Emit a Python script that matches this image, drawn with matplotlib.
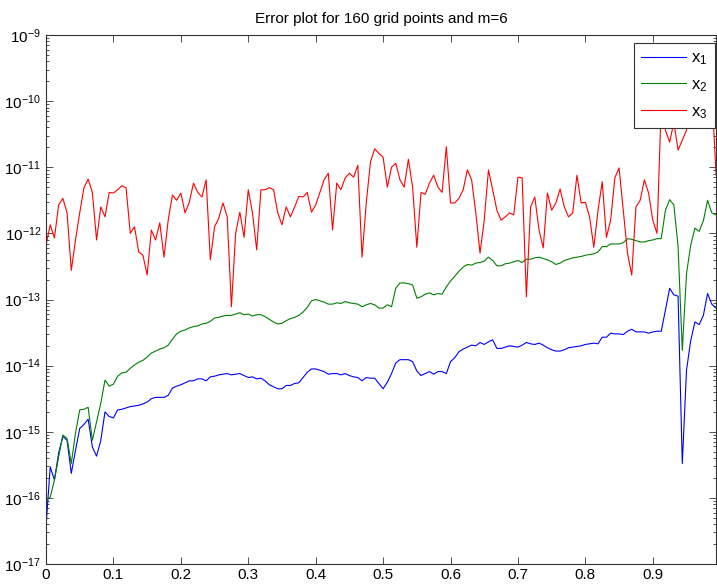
import matplotlib
matplotlib.use("Agg")
import matplotlib.pyplot as plt
import numpy as np
from matplotlib.ticker import LogLocator, NullFormatter

# Fonts: MATLAB-like (Arial -> Liberation Sans)
plt.rcParams['font.family'] = ['Liberation Sans', 'DejaVu Sans']
plt.rcParams['axes.unicode_minus'] = False
plt.rcParams['mathtext.fontset'] = 'custom'
plt.rcParams['mathtext.rm'] = 'Liberation Sans'
plt.rcParams['mathtext.it'] = 'Liberation Sans:italic'

# Grid: 160 points on [0, 1)
n_points = 160
x = np.arange(n_points) / n_points

# log10 of the error
log_x1 = [
    -16.44, -15.53, -15.73, -15.32, -15.07, -15.13, -15.63, -15.28, -14.95, -14.89,
    -14.81, -15.23, -15.37, -15.13, -14.70, -14.77, -14.79, -14.67, -14.66, -14.64,
    -14.62, -14.61, -14.60, -14.58, -14.55, -14.50, -14.48, -14.48, -14.48, -14.45,
    -14.34, -14.31, -14.29, -14.26, -14.23, -14.23, -14.20, -14.20, -14.23, -14.17,
    -14.16, -14.14, -14.13, -14.12, -14.14, -14.13, -14.12, -14.15, -14.18, -14.17,
    -14.20, -14.19, -14.23, -14.29, -14.32, -14.35, -14.35, -14.30, -14.30, -14.27,
    -14.26, -14.18, -14.10, -14.05, -14.05, -14.07, -14.09, -14.13, -14.12, -14.12,
    -14.14, -14.12, -14.15, -14.17, -14.18, -14.23, -14.18, -14.19, -14.19, -14.27,
    -14.35, -14.25, -14.12, -13.96, -13.91, -13.91, -13.91, -13.94, -14.08, -14.15,
    -14.12, -14.09, -14.13, -14.09, -14.09, -14.12, -13.94, -13.88, -13.79, -13.75,
    -13.72, -13.69, -13.70, -13.65, -13.68, -13.64, -13.61, -13.74, -13.74, -13.72,
    -13.70, -13.71, -13.72, -13.69, -13.65, -13.67, -13.68, -13.66, -13.69, -13.73,
    -13.76, -13.78, -13.78, -13.76, -13.73, -13.72, -13.71, -13.70, -13.68, -13.67,
    -13.66, -13.67, -13.57, -13.57, -13.51, -13.52, -13.52, -13.53, -13.48, -13.45,
    -13.49, -13.49, -13.49, -13.51, -13.49, -13.48, -13.48, -13.16, -12.83, -12.93,
    -12.95, -15.48, -14.07, -13.62, -13.34, -13.38, -13.24, -12.91, -13.07, -13.13,
]

log_x2 = [
    -16.03, -15.99, -15.73, -15.38, -15.05, -15.10, -15.48, -15.02, -14.67, -14.66,
    -14.63, -15.13, -14.85, -14.57, -14.22, -14.31, -14.28, -14.16, -14.11, -14.10,
    -14.04, -13.99, -13.95, -13.92, -13.87, -13.81, -13.78, -13.75, -13.73, -13.69,
    -13.60, -13.52, -13.48, -13.46, -13.43, -13.41, -13.40, -13.37, -13.36, -13.33,
    -13.28, -13.27, -13.25, -13.24, -13.24, -13.22, -13.20, -13.23, -13.22, -13.25,
    -13.23, -13.23, -13.26, -13.30, -13.34, -13.37, -13.36, -13.32, -13.29, -13.27,
    -13.24, -13.19, -13.12, -13.02, -13.00, -13.02, -13.04, -13.07, -13.07, -13.05,
    -13.06, -13.03, -13.05, -13.06, -13.07, -13.11, -13.08, -13.06, -13.08, -13.13,
    -13.13, -13.08, -13.11, -12.83, -12.75, -12.75, -12.76, -12.78, -12.98, -12.96,
    -12.92, -12.90, -12.93, -12.91, -12.92, -12.81, -12.72, -12.65, -12.57, -12.51,
    -12.47, -12.48, -12.45, -12.44, -12.42, -12.36, -12.41, -12.49, -12.49, -12.46,
    -12.45, -12.43, -12.41, -12.44, -12.39, -12.39, -12.37, -12.36, -12.38, -12.40,
    -12.43, -12.47, -12.45, -12.41, -12.39, -12.37, -12.36, -12.35, -12.33, -12.32,
    -12.31, -12.28, -12.20, -12.20, -12.16, -12.16, -12.16, -12.14, -12.08, -12.09,
    -12.11, -12.13, -12.13, -12.11, -12.10, -12.08, -12.08, -11.65, -11.49, -11.57,
    -12.20, -13.77, -12.61, -12.18, -11.92, -11.97, -11.81, -11.50, -11.69, -11.72,
]

log_x3 = [
    -12.18, -11.87, -12.07, -11.57, -11.47, -11.69, -12.56, -12.10, -11.69, -11.31,
    -11.18, -11.38, -12.10, -11.60, -11.75, -11.38, -11.39, -11.34, -11.28, -11.31,
    -12.00, -11.90, -12.28, -12.33, -12.63, -11.95, -12.10, -11.84, -12.36, -11.80,
    -11.42, -11.50, -11.39, -11.69, -11.53, -11.24, -11.38, -11.45, -11.19, -12.40,
    -11.90, -11.77, -11.54, -11.75, -13.11, -12.00, -11.68, -12.06, -11.34, -11.69,
    -12.25, -11.34, -11.34, -11.31, -11.34, -11.69, -11.87, -11.60, -11.75, -11.60,
    -11.44, -11.45, -11.38, -11.68, -11.57, -11.38, -11.19, -11.09, -11.95, -11.24,
    -11.34, -11.16, -11.09, -11.15, -10.97, -12.36, -11.54, -10.92, -10.72, -10.79,
    -10.85, -11.30, -11.00, -10.94, -11.19, -11.30, -10.88, -11.30, -12.21, -11.38,
    -11.41, -11.24, -11.12, -11.30, -11.38, -10.69, -11.54, -11.54, -11.47, -11.34,
    -11.04, -11.19, -11.69, -12.30, -11.80, -11.04, -11.34, -11.65, -11.80, -11.75,
    -11.69, -11.72, -11.15, -11.16, -12.96, -11.60, -11.45, -11.95, -12.22, -11.39,
    -11.65, -11.54, -11.33, -11.60, -11.75, -11.69, -11.12, -11.54, -11.53, -11.75,
    -12.21, -11.65, -11.22, -12.06, -11.80, -11.16, -11.01, -11.65, -12.30, -12.63,
    -11.60, -11.50, -11.19, -11.39, -11.80, -12.00, -10.06, -10.44, -10.62, -10.32,
    -10.74, -10.59, -10.44, -10.13, -9.98, -10.06, -10.13, -9.98, -9.83, -11.10,
]

labels = [r'$\mathregular{x_1}$', r'$\mathregular{x_2}$', r'$\mathregular{x_3}$']
colors = [(0, 0, 1), (0, 0.5, 0), (1, 0, 0)]
x_ticks = [0, 0.1, 0.2, 0.3, 0.4, 0.5, 0.6, 0.7, 0.8, 0.9]
x_ticklabels = ['0', '0.1', '0.2', '0.3', '0.4', '0.5', '0.6', '0.7', '0.8', '0.9']

fig = plt.figure(figsize=(7.17, 5.87), dpi=100)
ax = fig.add_axes([46 / 717, 23 / 587, 670 / 717, 529 / 587])

for vals, col, lab in zip([log_x1, log_x2, log_x3], colors, labels):
    ax.semilogy(x, 10.0 ** np.array(vals), color=col, lw=0.8, label=lab)

ax.set_xlim(0, x[-1])
ax.set_ylim(1e-17, 1e-9)
ax.set_xticks(x_ticks)
ax.set_xticklabels(x_ticklabels)
ax.yaxis.set_major_locator(LogLocator(base=10, numticks=20))
ax.yaxis.set_minor_locator(LogLocator(base=10, subs=np.arange(2, 10), numticks=20))
ax.yaxis.set_minor_formatter(NullFormatter())

ax.tick_params(which='both', direction='in', top=True, right=True,
               labelsize=11, width=0.6, color='#333333')
ax.tick_params(which='major', length=5)
ax.tick_params(which='minor', length=2.5)
ax.tick_params(axis='x', pad=3)
for sp in ax.spines.values():
    sp.set_linewidth(0.8)
    sp.set_color('#333333')

ax.set_title('Error plot for 160 grid points and m=6', fontsize=11, pad=9)

leg = ax.legend(loc='upper right', bbox_to_anchor=(0.9985, 1 - 8 / 529),
                borderaxespad=0, fancybox=False, framealpha=1, edgecolor='#333333',
                fontsize=12, handlelength=2.7, handletextpad=0.3,
                labelspacing=0.6, borderpad=0.45)
leg.get_frame().set_linewidth(0.8)

fig.savefig('out.png', dpi=100)
